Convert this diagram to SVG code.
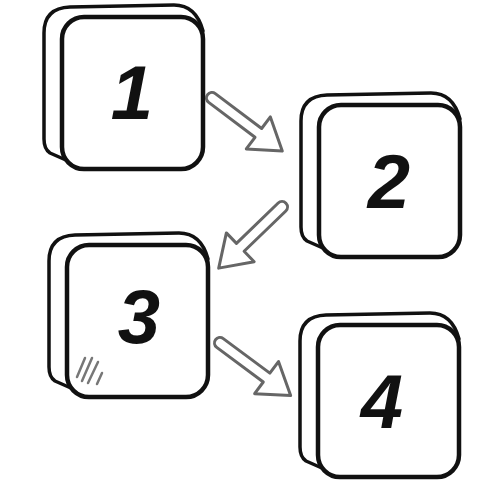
<svg xmlns="http://www.w3.org/2000/svg" width="500" height="500" viewBox="0 0 500 500">
<defs>
<style>
.back{fill:#fff;stroke:#111;stroke-width:3.5;stroke-linejoin:round}
.front{fill:#fff;stroke:#111;stroke-width:4.5;stroke-linejoin:round}
.num{font-family:"Liberation Sans",Arial,sans-serif;font-weight:bold;font-style:italic;font-size:76px;fill:#111;text-anchor:middle}
.arrow{fill:#fff;stroke:#666;stroke-width:3;stroke-linejoin:round}
.hatch{stroke:#777;stroke-width:2.5;stroke-linecap:round;fill:none}
</style>
<path id="arw" d="M0,-5.5 L58,-5.5 L58,-20 L88,0 L58,20 L58,5.5 L0,5.5 A5.5,5.5 0 0 1 0,-5.5 Z"/>
<g id="tile">
<path class="back" d="M22,151 L-12,136 Q-18,132 -18,122 L-18,16 Q-18,-9 8,-10 L112,-12 Q134,-12 141,14 Z"/>
<rect class="front" x="0" y="0" width="141" height="152" rx="22"/>
</g>
</defs>
<rect width="500" height="500" fill="#fff"/>
<g id="connectors">
<use href="#arw" class="arrow" transform="translate(212,98) rotate(37)"/>
<use href="#arw" class="arrow" transform="translate(282,207) rotate(136)"/>
<use href="#arw" class="arrow" transform="translate(220,343) rotate(36.6)"/>
</g>
<g id="node1">
<use href="#tile" transform="translate(62,17)"/>
<text class="num" x="132" y="119">1</text>
</g>
<g id="node2">
<use href="#tile" transform="translate(319,105)"/>
<text class="num" x="389" y="208">2</text>
</g>
<g id="node3">
<use href="#tile" transform="translate(67,245)"/>
<text class="num" x="139" y="343">3</text>
<path class="hatch" d="M77,377 L85,358 M82,381 L92,358 M88,383 L98,362 M97,384 L102,373"/>
</g>
<g id="node4">
<use href="#tile" transform="translate(318,325)"/>
<text class="num" x="382" y="428">4</text>
</g>
</svg>
